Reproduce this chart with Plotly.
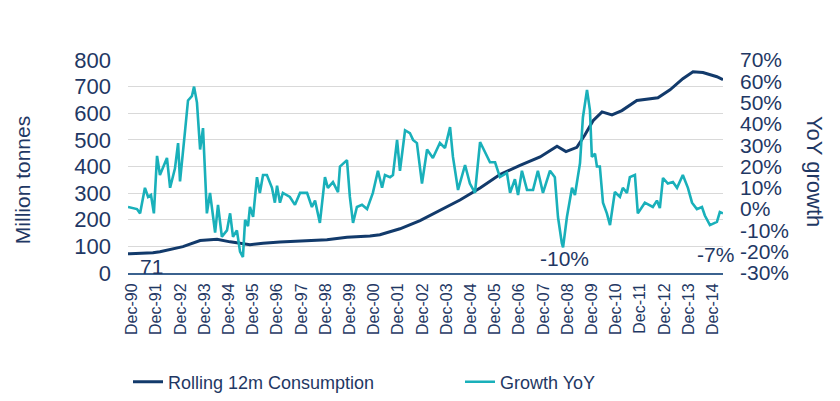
import plotly.graph_objects as go

# ---- data ----
cons_t = [1990.75, 1990.83, 1991.78, 1992.07, 1993.02, 1993.73, 1994.43, 1994.97, 1995.79,
          1996.33, 1997.03, 1997.98, 1998.97, 1999.80, 2000.75, 2001.16, 2001.99, 2002.82,
          2003.64, 2004.47, 2005.30, 2006.12, 2006.95, 2007.78, 2008.48, 2008.85, 2009.30,
          2009.63, 2009.97, 2010.34, 2010.75, 2011.16, 2011.78, 2012.20, 2012.65, 2013.15,
          2013.68, 2014.10, 2014.51, 2015.09, 2015.34]
cons_v = [72, 72, 76, 80, 99, 122, 127, 117, 106,
          112, 116, 120, 125, 134, 139, 144, 166, 197,
          235, 274, 319, 370, 404, 436, 476, 456, 472,
          518, 572, 605, 594, 610, 648, 654, 658, 688,
          730, 756, 753, 737, 726]

grow_t = [1990.75, 1991.12, 1991.25, 1991.45, 1991.58, 1991.70, 1991.82, 1991.95, 1992.07, 1992.36,
          1992.49, 1992.69, 1992.82, 1992.90, 1993.11, 1993.23, 1993.39, 1993.48, 1993.60, 1993.73,
          1993.85, 1994.01, 1994.14, 1994.35, 1994.47, 1994.63, 1994.84, 1994.97, 1995.09, 1995.25,
          1995.38, 1995.50, 1995.59, 1995.71, 1995.79, 1995.92, 1996.08, 1996.20, 1996.33, 1996.49,
          1996.70, 1996.82, 1996.91, 1997.03, 1997.15, 1997.44, 1997.65, 1997.86, 1998.15, 1998.35,
          1998.48, 1998.68, 1998.89, 1999.01, 1999.22, 1999.43, 1999.51, 1999.80, 1999.92, 2000.05,
          2000.21, 2000.42, 2000.63, 2000.87, 2001.08, 2001.25, 2001.37, 2001.58, 2001.70, 2001.87,
          2001.99, 2002.20, 2002.40, 2002.53, 2002.69, 2002.90, 2003.11, 2003.35, 2003.64, 2003.85,
          2004.06, 2004.18, 2004.39, 2004.68, 2004.88, 2005.09, 2005.30, 2005.50, 2005.71, 2005.92,
          2006.12, 2006.41, 2006.54, 2006.74, 2006.87, 2007.03, 2007.24, 2007.49, 2007.69, 2007.90,
          2008.19, 2008.39, 2008.52, 2008.68, 2008.73, 2008.89, 2009.10, 2009.22, 2009.43, 2009.55,
          2009.72, 2009.84, 2009.92, 2010.05, 2010.13, 2010.25, 2010.38, 2010.54, 2010.67, 2010.87,
          2011.08, 2011.20, 2011.37, 2011.49, 2011.70, 2011.82, 2012.11, 2012.44, 2012.61, 2012.73,
          2012.86, 2013.06, 2013.27, 2013.44, 2013.68, 2013.89, 2014.06, 2014.26, 2014.47, 2014.59,
          2014.80, 2015.09, 2015.21, 2015.34]
grow_v = [1, 0, -2, 10, 5.7, 6.6, -2, 25, 16, 24,
          10, 19, 31, 13, 37, 51, 53, 57.5, 50, 28,
          38, -2, 7.6, -11, 2, -13, -10, -2, -13, -10,
          -20, -22.5, -5, -8, 1, -3.7, 15, 7.6, 16, 16,
          10, 3, 11, 3, 7.6, 5.7, 2, 7.6, 7.6, 1,
          4, -6.5, 15, 10, 12.7, 8, 20, 23, 5.7, -6.5,
          1, 2, 0, 7.6, 18, 10, 16, 15, 16, 32.5,
          18, 37, 35.7, 32.5, 31, 12, 28, 24, 31, 28.7,
          38.5, 24.5, 9, 20.7, 12, 7.6, 31.5, 27, 22, 22,
          15, 17, 7.6, 14, 6.6, 18, 9, 9, 18, 7.6,
          18, 15, -3.7, -16, -18, -3.7, 10, 6.6, 21.6, 43,
          56, 46.5, 24.5, 26, 20, 20, 3, -2, -7.5, 8,
          5.7, 10, 7.6, 15, 16, -2, 3, 1, 4, 0.5,
          14.6, 12, 12.7, 10, 16, 10, 3, 0, 1, -3,
          -7.5, -6, -1.4, -2]

tick_years = list(range(1990, 2015))
tick_labels = ["Dec-%02d" % (y % 100) for y in tick_years]

left_ticks = [0, 100, 200, 300, 400, 500, 600, 700, 800]
right_ticks = [-30, -20, -10, 0, 10, 20, 30, 40, 50, 60, 70]
right_labels = ["%d%%" % v for v in right_ticks]

NAVY = "#123a6b"
TEAL = "#19b0ba"
TXT = "#1f3864"
FONT = "Liberation Sans, Arial, sans-serif"

fig = go.Figure()
fig.add_trace(go.Scatter(x=cons_t, y=cons_v, mode="lines", name="Rolling 12m Consumption",
                         line=dict(color=NAVY, width=3), yaxis="y", legend="legend"))
fig.add_trace(go.Scatter(x=grow_t, y=grow_v, mode="lines", name="Growth YoY",
                         line=dict(color=TEAL, width=2.6), yaxis="y2", legend="legend2"))

leg_common = dict(orientation="h", xanchor="left", yanchor="middle", xref="container",
                  yref="container", font=dict(size=18, color=TXT), bgcolor="rgba(0,0,0,0)")

fig.update_layout(
    width=840, height=401,
    margin=dict(l=120, r=125, t=52, b=136, autoexpand=False),
    paper_bgcolor="white", plot_bgcolor="white",
    font=dict(family=FONT, color=TXT),
    xaxis=dict(range=[1990.75, 2015.34], tickvals=[y + 11/12 for y in tick_years],
               ticktext=tick_labels, tickangle=-90, tickfont=dict(size=16, color=TXT),
               showgrid=False, zeroline=False, showline=True, linecolor="#3b628f", linewidth=2,
               ticks="", ticklabelstandoff=2, automargin=False),
    yaxis=dict(range=[0, 800], tickvals=left_ticks, tickfont=dict(size=22, color=TXT),
               showgrid=True, gridcolor="#d9d9d9", gridwidth=1, zeroline=False,
               ticks="", ticklabelstandoff=16, automargin=False),
    yaxis2=dict(range=[-30, 70], tickvals=right_ticks, ticktext=right_labels, overlaying="y",
                side="right", tickfont=dict(size=21, color=TXT), showgrid=False,
                zeroline=False, ticks="", ticklabelstandoff=16, automargin=False),
    legend=dict(x=120 / 840, y=27 / 401, **leg_common),
    legend2=dict(x=452 / 840, y=27 / 401, **leg_common),
    showlegend=True,
)

ann = [
    dict(text="71", x=1991.74, y=26, xref="x", yref="y", font=dict(size=21, color=TXT)),
    dict(text="736", x=2013.77, y=834, xref="x", yref="y", font=dict(size=21, color=TXT)),
    dict(text="-10%", x=2008.81, y=-23.4, xref="x", yref="y2", font=dict(size=21, color=TXT)),
    dict(text="-7%", x=2015.05, y=-21.1, xref="x", yref="y2", font=dict(size=21, color=TXT)),
    dict(text="Million tonnes", x=-0.176, y=0.437, xref="paper", yref="paper", textangle=-90,
         font=dict(size=21, color=TXT)),
    dict(text="YoY growth", x=1.153, y=0.479, xref="paper", yref="paper", textangle=90,
         font=dict(size=22, color=TXT)),
]
for a in ann:
    a.update(showarrow=False, xanchor="center", yanchor="middle")
    fig.add_annotation(**a)

fig.write_html("out.html")
